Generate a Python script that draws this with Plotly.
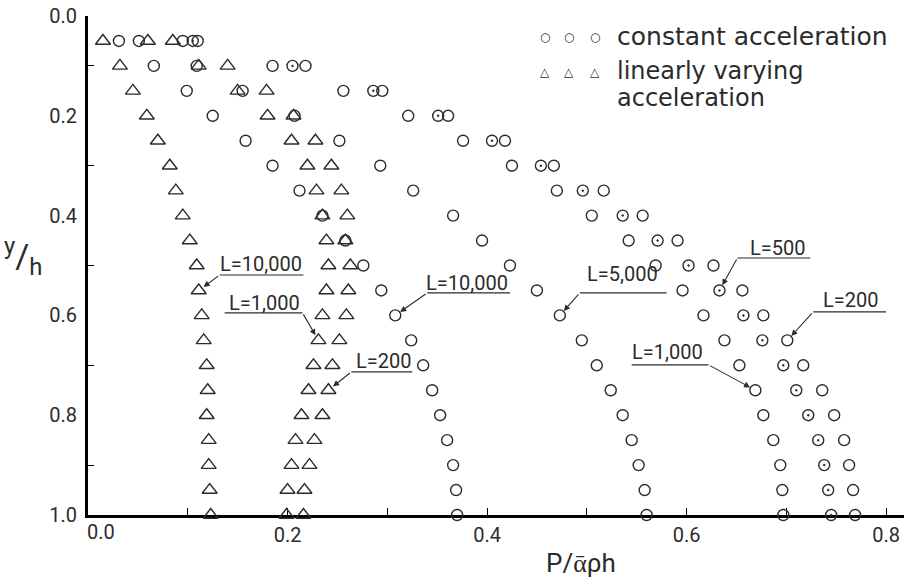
import plotly.graph_objects as go

# depth levels y/h (rows of the profiles)
y_levels = [0.05, 0.10, 0.15, 0.20, 0.25, 0.30, 0.35, 0.40, 0.45, 0.50,
            0.55, 0.60, 0.65, 0.70, 0.75, 0.80, 0.85, 0.90, 0.95, 1.00]

# linearly varying acceleration (triangles)
tri_L10000 = [0.015, 0.032, 0.045, 0.059, 0.070, 0.082, 0.088, 0.095, 0.102, 0.109,
              0.111, 0.114, 0.116, 0.119, 0.120, 0.119, 0.121, 0.121, 0.122, 0.123]
tri_L1000 = [0.060, 0.111, 0.150, 0.180, 0.204, 0.220, 0.229, 0.235, 0.239, 0.241,
             0.239, 0.235, 0.231, 0.226, 0.221, 0.214, 0.208, 0.204, 0.200, 0.199]
tri_L200 = [0.085, 0.140, 0.179, 0.206, 0.228, 0.244, 0.254, 0.260, 0.258, 0.263,
            0.261, 0.259, 0.252, 0.245, 0.241, 0.235, 0.227, 0.222, 0.217, 0.216]

# constant acceleration (circles)
circ_L10000 = [0.031, 0.066, 0.099, 0.125, 0.158, 0.185, 0.212, 0.235, 0.258, 0.276,
               0.294, 0.308, 0.324, 0.336, 0.345, 0.353, 0.360, 0.366, 0.369, 0.370]
circ_L5000 = [0.051, 0.109, 0.155, 0.207, 0.252, 0.293, 0.326, 0.366, 0.395, 0.423,
              0.450, 0.473, 0.495, 0.510, 0.524, 0.536, 0.545, 0.552, 0.558, 0.560]
circ_L1000 = [0.095, 0.185, 0.256, 0.321, 0.376, 0.425, 0.470, 0.505, 0.542, 0.569,
              0.596, 0.617, 0.638, 0.653, 0.669, 0.677, 0.687, 0.694, 0.696, 0.697]
circ_L500 = [0.105, 0.205, 0.286, 0.351, 0.405, 0.454, 0.496, 0.536, 0.571, 0.602,
             0.633, 0.657, 0.676, 0.697, 0.710, 0.722, 0.732, 0.738, 0.742, 0.745]
circ_L200 = [0.110, 0.218, 0.295, 0.361, 0.418, 0.467, 0.517, 0.556, 0.591, 0.627,
             0.656, 0.677, 0.701, 0.717, 0.736, 0.748, 0.758, 0.763, 0.767, 0.769]

x_ticks = [0.2, 0.4, 0.6, 0.8]
x_ticklabels = ["0.2", "0.4", "0.6", "0.8"]
y_ticks = [0.0, 0.2, 0.4, 0.6, 0.8, 1.0]
y_ticklabels = ["0.0", "0.2", "0.4", "0.6", "0.8", "1.0"]

INK = "#2b2b2b"
FONT = "Roboto"

fig = go.Figure()

def add_series(xs, symbol, size, name):
    fig.add_trace(go.Scatter(
        x=xs, y=y_levels, mode="markers", name=name, showlegend=False,
        cliponaxis=False, hoverinfo="skip",
        marker=dict(symbol=symbol, size=size, color=INK,
                    line=dict(color=INK, width=1.4))))

add_series(tri_L10000, "triangle-up-open", 13, "linear L=10,000")
add_series(tri_L1000, "triangle-up-open", 13, "linear L=1,000")
add_series(tri_L200, "triangle-up-open", 13, "linear L=200")
add_series(circ_L10000, "circle-open", 11, "constant L=10,000")
add_series(circ_L5000, "circle-open", 11, "constant L=5,000")
add_series(circ_L1000, "circle-open", 11, "constant L=1,000")
add_series(circ_L500, "circle-open-dot", 11, "constant L=500")
add_series(circ_L200, "circle-open", 11, "constant L=200")

# label callouts: (text, text x, text y, underline x0, x1, underline y, tail x, series, index)
callouts = [
    ("L=10,000", 0.173, 0.497, 0.132, 0.216, 0.519, 0.132, tri_L10000, 10),
    ("L=1,000", 0.177, 0.576, 0.137, 0.215, 0.595, 0.215, tri_L1000, 12),
    ("L=200", 0.296, 0.692, 0.264, 0.325, 0.713, 0.264, tri_L200, 14),
    ("L=10,000", 0.380, 0.536, 0.340, 0.423, 0.555, 0.340, circ_L10000, 11),
    ("L=5,000", 0.536, 0.518, 0.493, 0.580, 0.555, 0.493, circ_L5000, 11),
    ("L=500", 0.691, 0.465, 0.651, 0.724, 0.485, 0.651, circ_L500, 10),
    ("L=200", 0.764, 0.570, 0.727, 0.800, 0.593, 0.727, circ_L200, 12),
    ("L=1,000", 0.581, 0.673, 0.545, 0.622, 0.699, 0.622, circ_L1000, 14),
]

for text, tx, ty, ux0, ux1, uy, tailx, series, idx in callouts:
    fig.add_annotation(x=tx, y=ty, text=text, showarrow=False,
                       font=dict(family=FONT, size=20, color=INK))
    fig.add_shape(type="line", x0=ux0, x1=ux1, y0=uy, y1=uy,
                  line=dict(color=INK, width=1.2))
    fig.add_annotation(x=series[idx], y=y_levels[idx], ax=tailx, ay=uy,
                       xref="x", yref="y", axref="x", ayref="y", text="",
                       showarrow=True, arrowhead=2, arrowsize=1.1, arrowwidth=1.1,
                       arrowcolor=INK, standoff=6)

# custom legend
for lx in [0.458, 0.482, 0.508]:
    fig.add_annotation(x=lx, y=0.042, text="○", showarrow=False,
                       font=dict(family="DejaVu Sans", size=12, color=INK))
    fig.add_annotation(x=lx, y=0.112, text="△", showarrow=False,
                       font=dict(family="DejaVu Sans", size=12, color=INK))
fig.add_annotation(x=0.528, y=0.042, text="constant acceleration", xanchor="left",
                   showarrow=False, font=dict(family="DejaVu Sans", size=25, color=INK))
fig.add_annotation(x=0.528, y=0.110, text="linearly varying", xanchor="left",
                   showarrow=False, font=dict(family="DejaVu Sans", size=24, color=INK))
fig.add_annotation(x=0.528, y=0.164, text="acceleration", xanchor="left",
                   showarrow=False, font=dict(family="DejaVu Sans", size=24, color=INK))

# axis titles and the offset 0.0 x label
fig.add_annotation(x=0.0, xref="paper", xanchor="left", xshift=-88 + 2, y=0.481,
                   text="<sup>y</sup>/<sub>h</sub>", showarrow=False,
                   font=dict(family=FONT, size=34, color=INK))
fig.add_annotation(x=0.494, y=1.0, yshift=-48, text="P/ᾱρh", showarrow=False,
                   font=dict(family=FONT, size=26, color=INK))
fig.add_annotation(x=0.013, y=1.0, yshift=-17, text="0.0", showarrow=False,
                   font=dict(family=FONT, size=20, color=INK))

fig.update_layout(
    width=904, height=580,
    margin=dict(l=88, r=0, t=16, b=65),
    paper_bgcolor="white", plot_bgcolor="white",
    showlegend=False, hovermode=False,
    xaxis=dict(range=[0, 0.818], showgrid=False, zeroline=False,
               showline=True, linecolor="black", linewidth=3,
               tickvals=x_ticks, ticktext=x_ticklabels,
               ticks="inside", ticklen=7, tickwidth=1.2, tickcolor="black",
               minor=dict(tickvals=[0.1, 0.3, 0.5, 0.7], ticks="inside",
                          ticklen=7, tickwidth=1.2, tickcolor="black"),
               tickfont=dict(family=FONT, size=20, color=INK),
               layer="below traces"),
    yaxis=dict(range=[1.0, 0.0], showgrid=False, zeroline=False,
               showline=True, linecolor="black", linewidth=3,
               tickvals=y_ticks, ticktext=y_ticklabels, ticks="",
               ticklabelstandoff=4,
               minor=dict(tickvals=[0.1, 0.3, 0.5, 0.7, 0.9], ticks="inside",
                          ticklen=6, tickwidth=1.2, tickcolor="black"),
               tickfont=dict(family=FONT, size=20, color=INK),
               layer="below traces"),
)

fig.write_html("out.html", config={"displayModeBar": False},
               post_script="document.body.style.margin='0px';"
                           "document.body.style.overflow='hidden';")
